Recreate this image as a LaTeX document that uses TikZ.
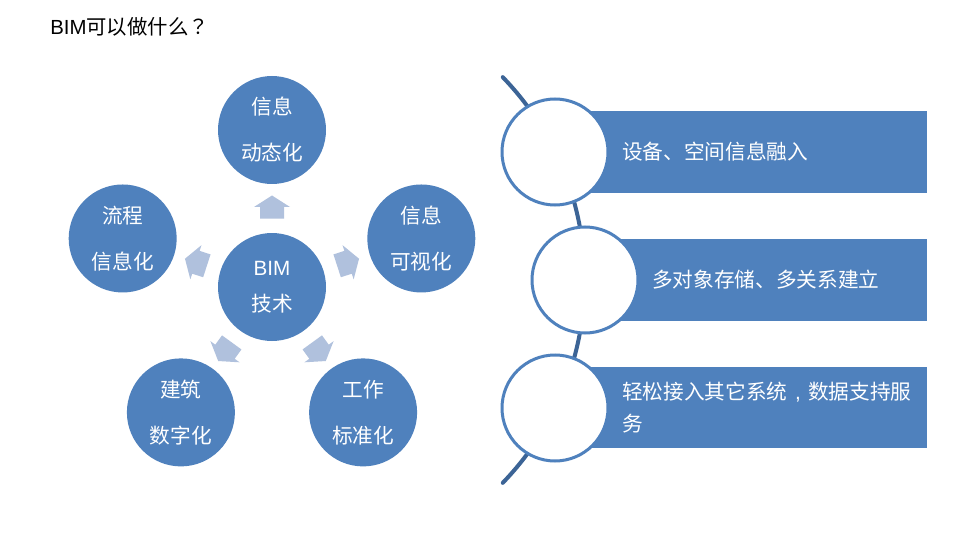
\documentclass[tikz,border=0pt]{standalone}
\usepackage{fontspec}
\setmainfont{Noto Sans CJK SC}
\newfontfamily\latin{Liberation Sans}
\newfontfamily\tcbiao{Noto Sans CJK TC}
\definecolor{lanse}{HTML}{4F81BD}
\definecolor{qianlan}{HTML}{B0C1DD}
\definecolor{shenlan}{HTML}{3C6496}
\tikzset{
  quan/.style={circle,fill=lanse,text=white,minimum size=81pt,inner sep=0pt,align=center,font=\fontsize{15.5}{34.5}\selectfont},
  kongquan/.style={circle,draw=lanse,line width=2.25pt,fill=white,minimum size=79.5pt,inner sep=0pt},
  wenzi/.style={anchor=west,text=white,align=left,inner sep=0pt,font=\fontsize{15.5}{24}\selectfont}
}
\begin{document}
\begin{tikzpicture}[x=0.75pt,y=0.75pt]
	\useasboundingbox (0,0) rectangle (960,540);
	\fill[white] (0,0) rectangle (960,540);
	\node[anchor=west,inner sep=0pt,font=\fontsize{15.3}{18}\selectfont] (biaoti) at (50,513) {{\latin BIM}可以做什么{\tcbiao ？}};
	% left: BIM in the middle, five circles round it
	\coordinate (O) at (272,253);
	\node[quan,font=\fontsize{15.5}{27}\selectfont] (bim) at (O) {{\latin BIM}\\技术};
	\node[quan] (dongtai) at ([shift={(90:157)}]O) {信息\\动态化};
	\node[quan] (liucheng) at ([shift={(162:157)}]O) {流程\\信息化};
	\node[quan] (jianzhu) at ([shift={(234:155)}]O) {建筑\\数字化};
	\node[quan] (gongzuo) at ([shift={(306:155)}]O) {工作\\标准化};
	\node[quan] (keshi) at ([shift={(18:157)}]O) {信息\\可视化};
	\foreach \g in {90,162,234,306,18}
		\fill[qianlan,shift={(O)},rotate=\g-90] (-12,68.5) -- (-12,80) -- (-18,80) -- (0,91.5) -- (18,80) -- (12,80) -- (12,68.5) -- cycle;
	% right: arc, bars and white circles
	\coordinate (C) at (292.7,260);
	\draw[shenlan,line width=3pt,line cap=round] ([shift={(44:219pt)}]C) arc[start angle=44,end angle=-44,radius=219pt];
	\fill[lanse] (590,347) rectangle (927,429);
	\fill[lanse] (620,219) rectangle (927,301);
	\fill[lanse] (590,92) rectangle (927,173);
	\node[kongquan] (q1) at (555,388) {};
	\node[kongquan] (q2) at (585,260) {};
	\node[kongquan] (q3) at (555,132) {};
	\node[wenzi] (t1) at (622,388) {设备、空间信息融入};
	\node[wenzi] (t2) at (652,260) {多对象存储、多关系建立};
	\node[wenzi] (t3) at (622,132) {轻松接入其它系统\makebox[1em][c]{\latin ,}数据支持服\\务};
\end{tikzpicture}
\end{document}
